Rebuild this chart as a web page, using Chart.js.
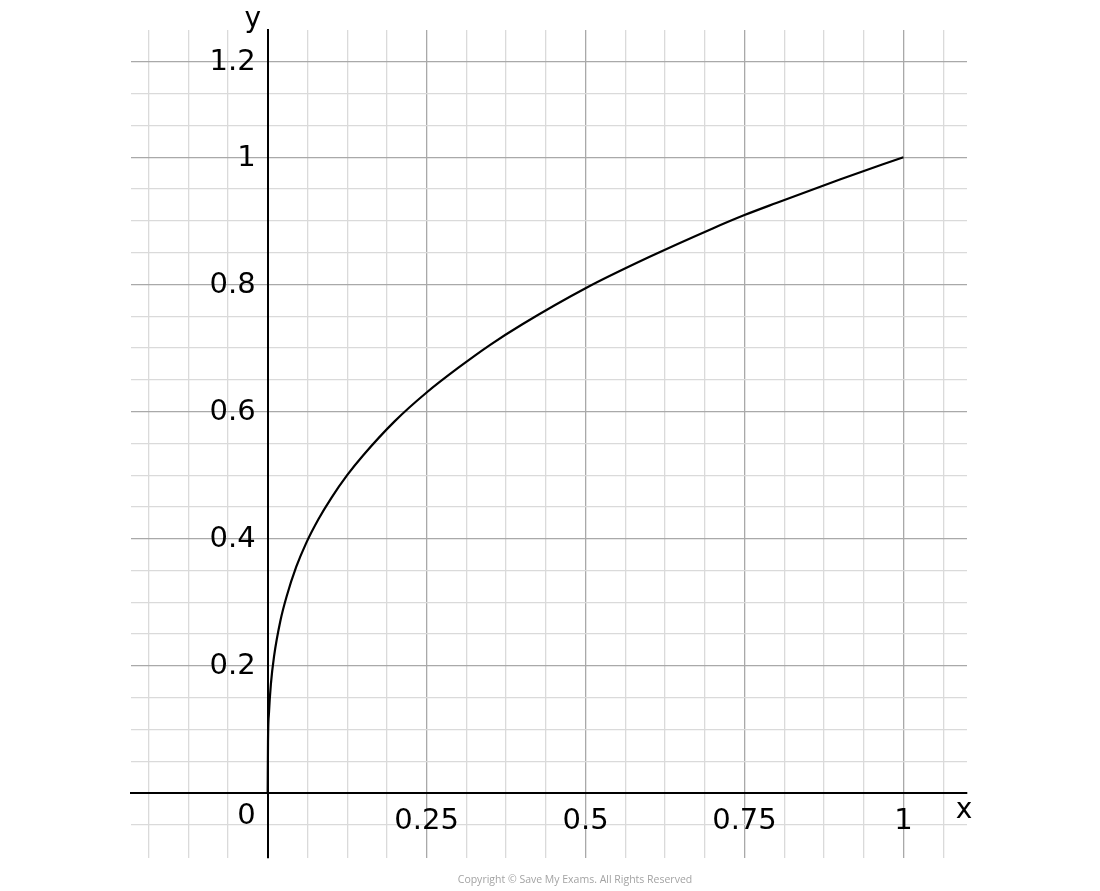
<!DOCTYPE html>
<html>
<head>
<meta charset="utf-8">
<script src="https://cdn.jsdelivr.net/npm/chart.js@4"></script>
<style>
  html, body { margin: 0; padding: 0; background: #fff; }
  #wrap { position: relative; width: 1100px; height: 891px; }
  #copy { position: absolute; left: 0; width: 1150px; top: 872px; text-align: center;
          font-family: "Open Sans", sans-serif; font-size: 10.5px; color: #a3a3a3; }
</style>
</head>
<body>
<div id="wrap">
  <canvas id="c" width="1100" height="891"></canvas>
  <div id="copy">Copyright © Save My Exams. All Rights Reserved</div>
</div>
<script>
// Curve y = x^(1/3)
const curveX = [0, 0.0005, 0.002, 0.005, 0.01, 0.02, 0.03, 0.045, 0.06, 0.08, 0.1, 0.125, 0.15, 0.2, 0.25, 0.3, 0.35, 0.4, 0.5, 0.6, 0.7, 0.75, 0.8, 0.9, 1];
const curveY = [0, 0.08, 0.126, 0.171, 0.215, 0.271, 0.31, 0.356, 0.392, 0.431, 0.464, 0.5, 0.531, 0.585, 0.63, 0.669, 0.705, 0.737, 0.794, 0.843, 0.888, 0.909, 0.928, 0.965, 1];

// Labelled ticks
const xTickValues = [0.25, 0.5, 0.75, 1];
const xTickLabels = ['0.25', '0.5', '0.75', '1'];
const yTickValues = [0.2, 0.4, 0.6, 0.8, 1, 1.15];
const yTickLabels = ['0.2', '0.4', '0.6', '0.8', '1', '1.2'];
const originLabel = '0';
const xAxisName = 'x';
const yAxisName = 'y';

// Grid ranges (minor step and tick range)
const xRange = [-0.215, 1.1];
const yRange = [-0.102, 1.2];
const xGridStep = 0.0625, xGridFirst = -3, xGridLast = 17;   // multiples of step
const yGridStep = 0.05,   yGridFirst = -1, yGridLast = 23;

const MAJOR = '#a9a9a9', MINOR = '#dadada';
const FONT = 'DejaVu Sans';

function idx(arr, v) { return arr.findIndex(a => Math.abs(a - v) < 1e-6); }

const extraText = {
  id: 'extraText',
  afterDraw(chart) {
    const ctx = chart.ctx, xs = chart.scales.x, ys = chart.scales.y;
    const x0 = xs.getPixelForValue(0), y0 = ys.getPixelForValue(0);
    ctx.save();
    ctx.fillStyle = '#000';
    ctx.font = '29px "' + FONT + '"';
    ctx.textAlign = 'right'; ctx.textBaseline = 'middle';
    // y-axis tick labels, placed with the y scale
    yTickValues.forEach((v, i) => {
      ctx.fillText(yTickLabels[i], x0 - 12, ys.getPixelForValue(v) + 1);
    });
    ctx.fillText(originLabel, x0 - 12, y0 + 23);
    ctx.textAlign = 'center';
    ctx.font = '28px "' + FONT + '"';
    ctx.fillText(yAxisName, x0 - 15, chart.chartArea.top - 10);
    ctx.fillText(xAxisName, chart.chartArea.right - 3, y0 + 18);
    ctx.restore();
  }
};

new Chart(document.getElementById('c'), {
  type: 'scatter',
  data: {
    datasets: [{
      data: curveX.map((x, i) => ({x: x, y: curveY[i]})),
      showLine: true,
      borderColor: '#000',
      borderWidth: 2.2,
      pointRadius: 0,
      cubicInterpolationMode: 'monotone',
      fill: false
    }]
  },
  options: {
    responsive: false,
    animation: false,
    devicePixelRatio: 1,
    layout: { padding: { left: 131, right: 133, top: 30, bottom: 33 } },
    plugins: { legend: { display: false }, tooltip: { enabled: false } },
    scales: {
      x: {
        type: 'linear',
        position: { y: 0 },
        min: xRange[0], max: xRange[1],
        afterBuildTicks(scale) {
          const t = [];
          for (let k = xGridFirst; k <= xGridLast; k++) t.push({ value: k * xGridStep });
          scale.ticks = t;
        },
        grid: {
          color: c => (c.tick && idx(xTickValues, c.tick.value) >= 0) ? MAJOR : MINOR,
          lineWidth: 1.3,
          drawTicks: false,
          tickLength: 0
        },
        border: { display: true, color: '#000', width: 2 },
        ticks: {
          autoSkip: false, maxRotation: 0, padding: 11,
          color: '#000',
          font: { family: FONT, size: 29 },
          callback: v => { const i = idx(xTickValues, v); return i >= 0 ? xTickLabels[i] : ''; }
        }
      },
      y: {
        type: 'linear',
        position: { x: 0 },
        min: yRange[0], max: yRange[1],
        afterBuildTicks(scale) {
          const t = [];
          for (let k = yGridFirst; k <= yGridLast; k++) t.push({ value: k * yGridStep });
          scale.ticks = t;
        },
        grid: {
          color: c => (c.tick && idx(yTickValues, c.tick.value) >= 0) ? MAJOR : MINOR,
          lineWidth: 1.3,
          drawTicks: false,
          tickLength: 0
        },
        border: { display: true, color: '#000', width: 2 },
        ticks: { display: false, autoSkip: false }
      }
    }
  },
  plugins: [extraText]
});
</script>
</body>
</html>
